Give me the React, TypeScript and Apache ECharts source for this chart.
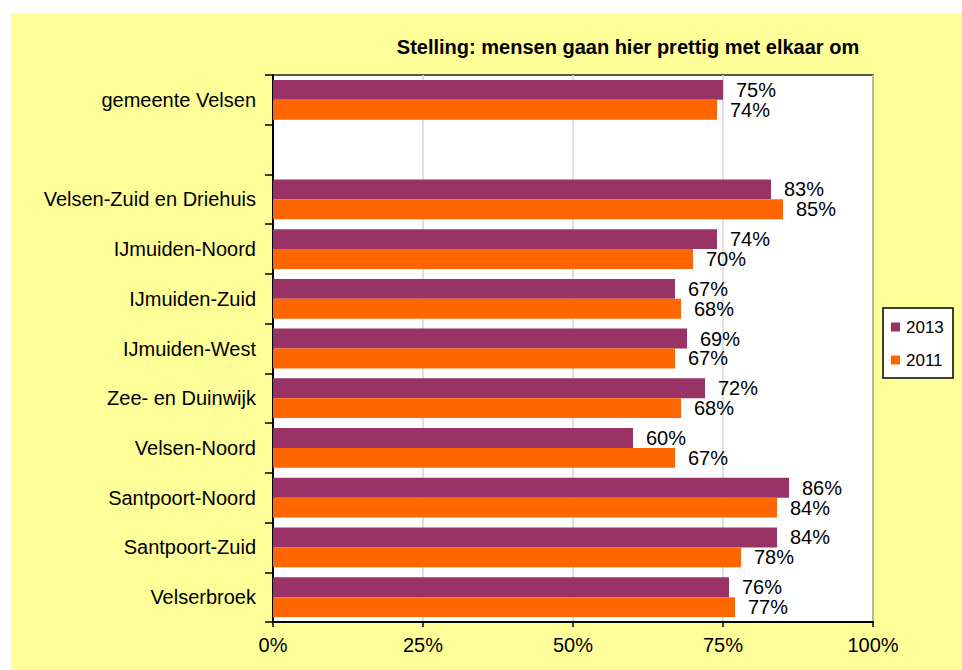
import React, { useEffect, useRef } from "react";
import * as echarts from "echarts";

const categories = [
  "gemeente Velsen",
  "",
  "Velsen-Zuid en Driehuis",
  "IJmuiden-Noord",
  "IJmuiden-Zuid",
  "IJmuiden-West",
  "Zee- en Duinwijk",
  "Velsen-Noord",
  "Santpoort-Noord",
  "Santpoort-Zuid",
  "Velserbroek",
];
const values2013: (number | null)[] = [75, null, 83, 74, 67, 69, 72, 60, 86, 84, 76];
const values2011: (number | null)[] = [74, null, 85, 70, 68, 67, 68, 67, 84, 78, 77];
const xTicks = { min: 0, max: 100, interval: 25 };
const titleText = "Stelling: mensen gaan hier prettig met elkaar om";

const FONT = "Liberation Sans, Arial, sans-serif";

export default function App() {
  const ref = useRef<HTMLDivElement>(null);
  useEffect(() => {
    if (!ref.current) return;
    const chart = echarts.init(ref.current, undefined, { renderer: "svg" });
    const label = {
      show: true,
      position: "right",
      distance: 13,
      formatter: (p: any) => (p.value == null ? "" : `${p.value}%`),
      fontSize: 20,
      color: "#000",
      fontFamily: FONT,
    };
    chart.setOption({
      animation: false,
      textStyle: { fontFamily: FONT },
      graphic: [
        {
          type: "text",
          x: 617,
          y: 34,
          style: {
            text: titleText,
            fontSize: 20,
            fontWeight: "bold",
            fontFamily: FONT,
            fill: "#000",
            textAlign: "center",
            textVerticalAlign: "middle",
          },
        },
        {
          type: "rect",
          z: -1,
          shape: { x: 872, y: 295, width: 70, height: 70 },
          style: { fill: "#fff", stroke: "#000", lineWidth: 1.5 },
        },
      ],
      legend: {
        orient: "vertical",
        left: 880,
        top: 304,
        data: ["2013", "2011"],
        icon: "rect",
        itemWidth: 9,
        itemHeight: 9,
        itemGap: 13,
        padding: 0,
        textStyle: { fontSize: 17, lineHeight: 20, color: "#000", fontFamily: FONT, padding: [0, 0, 0, 1] },
      },
      grid: {
        left: 262,
        top: 62,
        right: 89,
        bottom: 48,
        show: true,
        backgroundColor: "#fff",
        borderColor: "#222",
        borderWidth: 1.5,
        containLabel: false,
      },
      xAxis: {
        type: "value",
        min: xTicks.min,
        max: xTicks.max,
        interval: xTicks.interval,
        axisLine: { show: true, lineStyle: { color: "#000", width: 2 } },
        axisTick: { show: true, length: 5, lineStyle: { color: "#000", width: 1.5 } },
        axisLabel: { formatter: "{value}%", fontSize: 20, color: "#000", margin: 13, fontFamily: FONT },
        splitLine: { show: true, lineStyle: { color: "#d4d4d4", width: 1.5 } },
      },
      yAxis: {
        type: "category",
        data: categories,
        inverse: true,
        axisLine: { show: true, lineStyle: { color: "#000", width: 2 } },
        axisTick: { show: true, length: 8, lineStyle: { color: "#000", width: 1.5 } },
        axisLabel: { fontSize: 20, color: "#000", margin: 17, fontFamily: FONT },
        splitLine: { show: false },
      },
      series: [
        {
          name: "2013",
          type: "bar",
          data: values2013,
          itemStyle: { color: "#993366" },
          barGap: "0%",
          barCategoryGap: "20%",
          label,
        },
        {
          name: "2011",
          type: "bar",
          data: values2011,
          itemStyle: { color: "#FF6600" },
          barGap: "0%",
          barCategoryGap: "20%",
          label,
        },
      ],
    });
    return () => chart.dispose();
  }, []);
  return (
    <div style={{ position: "fixed", left: 0, top: 0, width: 962, height: 670, background: "#fff" }}>
      <div
        ref={ref}
        style={{ position: "absolute", left: 11, top: 13, width: 951, height: 657, background: "#FFFF99" }}
      />
    </div>
  );
}
